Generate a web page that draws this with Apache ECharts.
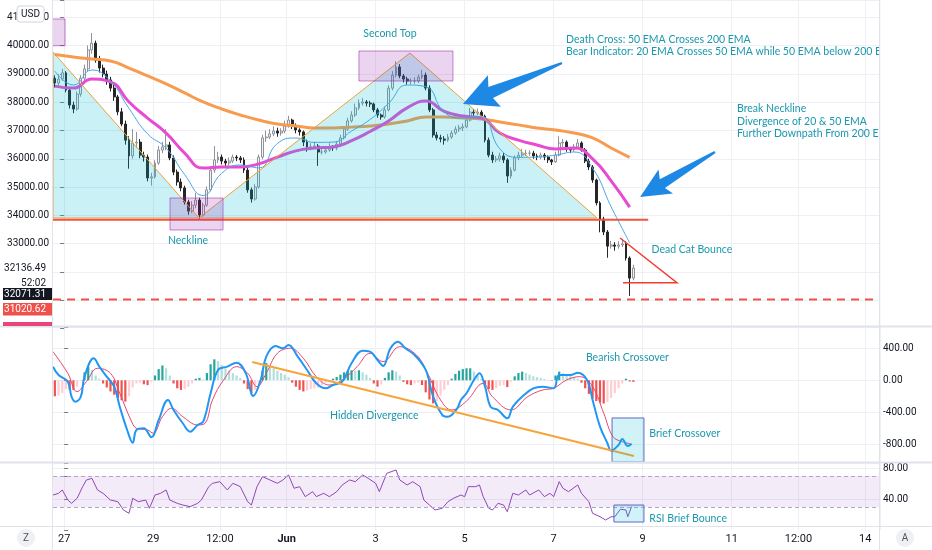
<!DOCTYPE html>
<html>
<head>
<meta charset="utf-8">
<script src="https://cdn.jsdelivr.net/npm/echarts@6/dist/echarts.min.js"></script>
<style>
  html, body { margin: 0; padding: 0; background: #fff; }
  #chart { width: 932px; height: 550px; }
</style>
</head>
<body>
<div id="chart"></div>
<script>
// hours are counted from 27 May 00:00, one candle = 2h, centred on odd hours
const tickHours = [0, 48, 84, 120, 168, 216, 264, 312, 360, 396, 432]
const tickLabels = ['27', '29', '12:00', 'Jun', '3', '5', '7', '9', '11', '12:00', '14']

// [open, close, low, high], first candle at hour -5
const candles = [
  [38850, 38680, 38520, 38950], [38680, 38820, 38600, 38990], [38820, 39040, 38760, 39180],
  [39040, 38430, 38350, 39100], [38430, 37900, 37780, 38520], [37900, 37760, 37610, 38020],
  [37760, 38290, 37700, 38380], [38290, 38850, 38200, 38960], [38850, 39180, 38760, 39330],
  [39180, 39850, 39100, 40010], [39850, 40090, 39720, 40450], [40090, 39490, 39400, 40180],
  [39490, 39210, 39050, 39640], [39210, 39000, 38880, 39330], [39000, 38790, 38620, 39120],
  [38790, 38500, 38380, 38900], [38500, 38190, 38050, 38620], [38190, 37660, 37540, 38260],
  [37660, 37230, 37150, 37800], [37230, 36660, 36500, 37350], [36660, 36100, 35650, 36800],
  [36100, 36560, 36000, 37050], [36560, 36590, 36380, 36950], [36590, 36130, 36020, 36700],
  [36130, 36060, 35900, 36250], [36060, 35320, 35200, 36150], [35320, 35360, 35050, 35500],
  [35360, 35850, 35300, 35950], [35850, 36310, 35780, 36450], [36310, 36420, 36200, 36600],
  [36420, 36490, 36300, 37050], [36490, 36030, 35950, 36600], [36030, 35530, 35420, 36120],
  [35530, 35180, 35050, 35620], [35180, 34970, 34850, 35300], [34970, 34470, 34380, 35050],
  [34470, 34150, 34020, 34550], [34150, 34360, 34080, 34500], [34360, 34540, 34250, 34800],
  [34540, 34010, 33850, 34620], [34010, 34360, 33950, 34450], [34360, 34900, 34300, 35020],
  [34900, 35600, 34850, 35700], [35600, 35960, 35500, 36450], [35960, 36060, 35850, 36250],
  [36060, 35920, 35800, 36150], [35920, 35850, 35700, 36000], [35850, 35920, 35760, 36050],
  [35920, 36060, 35850, 36150], [36060, 36030, 35920, 36130], [36030, 35960, 35850, 36100],
  [35960, 35600, 35500, 36050], [35600, 34900, 34800, 35680], [34900, 34580, 34450, 34980],
  [34580, 35000, 34520, 35100], [35000, 36060, 34950, 36150], [36060, 36740, 35980, 36850],
  [36740, 36770, 36600, 37000], [36770, 36880, 36700, 37050], [36880, 36980, 36800, 37150],
  [36980, 36910, 36780, 37100], [36910, 36980, 36820, 37080], [36980, 37160, 36900, 37350],
  [37160, 37370, 37100, 37520], [37370, 37160, 37050, 37420], [37160, 37020, 36900, 37250],
  [37020, 36950, 36820, 37080], [36950, 36590, 36450, 37000], [36590, 36420, 36250, 36680],
  [36420, 36420, 36300, 36550], [36420, 36450, 36350, 36600], [36450, 36240, 35750, 36520],
  [36240, 36240, 36150, 36350], [36240, 36310, 36180, 36400], [36310, 36420, 36250, 36550],
  [36420, 36380, 36280, 36480], [36380, 36520, 36300, 36620], [36520, 36740, 36450, 36850],
  [36740, 37050, 36680, 37150], [37050, 37340, 36980, 37450], [37340, 37550, 37280, 37680],
  [37550, 37800, 37480, 37950], [37800, 37970, 37720, 38100], [37970, 38010, 37880, 38150],
  [38010, 37970, 37850, 38080], [37970, 37940, 37830, 38050], [37940, 37730, 37650, 37990],
  [37730, 37550, 37450, 37800], [37550, 37480, 37380, 37600], [37480, 37730, 37420, 37850],
  [37730, 38500, 37680, 38600], [38500, 38960, 38420, 39100], [38960, 39250, 38880, 39450],
  [39250, 38930, 38850, 39350], [38930, 38820, 38700, 39000], [38820, 38750, 38620, 38900],
  [38750, 38750, 38640, 38850], [38750, 38750, 38650, 38880], [38750, 38890, 38680, 38980],
  [38890, 38960, 38820, 39150], [38960, 38500, 38420, 39050], [38500, 37730, 37650, 38600],
  [37730, 36840, 36750, 37800], [36840, 36740, 36650, 36950], [36740, 36700, 36580, 36850],
  [36700, 36660, 36500, 36800], [36660, 36770, 36600, 36880], [36770, 36910, 36700, 37000],
  [36910, 37050, 36850, 37150], [37050, 37090, 36950, 37200], [37090, 37130, 36980, 37250],
  [37130, 37370, 37080, 37450], [37370, 37650, 37320, 37800], [37650, 37620, 37520, 37750],
  [37620, 37650, 37540, 37780], [37650, 37510, 37420, 37720], [37510, 36660, 36580, 37560],
  [36660, 36130, 36050, 36750], [36130, 35960, 35850, 36250], [35960, 35990, 35880, 36100],
  [35990, 36100, 35900, 36220], [36100, 35960, 35850, 36200], [35960, 35390, 35150, 36020],
  [35390, 35600, 35300, 35700], [35600, 36030, 35550, 36120], [36030, 36130, 35950, 36250],
  [36130, 36170, 36050, 36350], [36170, 36200, 36100, 36320], [36200, 36200, 36100, 36300],
  [36200, 36100, 36000, 36280], [36100, 36060, 35950, 36180], [36060, 36130, 35980, 36220],
  [36130, 36060, 35950, 36200], [36060, 35960, 35850, 36120], [35960, 35890, 35780, 36000],
  [35890, 36130, 35850, 36250], [36130, 36560, 36080, 36800], [36560, 36590, 36420, 36700],
  [36590, 36350, 36250, 36650], [36350, 36310, 36200, 36420], [36310, 36420, 36250, 36520],
  [36420, 36560, 36380, 36700], [36560, 36310, 36250, 36620], [36310, 35920, 35850, 36380],
  [35920, 35710, 35600, 36000], [35710, 35250, 35150, 35780], [35250, 34440, 34350, 35300],
  [34440, 33870, 33400, 34500], [33870, 33410, 33300, 33950], [33410, 32910, 32500, 33480],
  [32910, 32950, 32820, 33100], [32950, 32910, 32750, 33050], [32910, 32950, 32820, 33080],
  [32950, 32990, 32880, 33150], [32990, 32490, 32400, 33080], [32490, 31780, 31150, 32550],
  [31780, 32136.49, 31700, 32250]
]

// moving averages, [hour, price]
const ema200 = [[-5, 39690], [5, 39600], [15, 39530], [25, 39460], [35, 39210], [45, 38930], [55, 38650],
  [65, 38330], [75, 38010], [85, 37760], [95, 37550], [105, 37370], [115, 37230], [125, 37160],
  [135, 37090], [145, 37090], [155, 37120], [165, 37160], [175, 37230], [185, 37340], [195, 37480],
  [205, 37480], [215, 37440], [225, 37410], [235, 37300], [245, 37200], [255, 37090], [265, 37020],
  [275, 36910], [285, 36740], [295, 36380], [305, 36050]]
const ema50 = [[-5, 38570], [5, 38500], [15, 38820], [25, 38720], [35, 38010], [45, 37440], [55, 36910],
  [65, 36200], [75, 35670], [85, 35710], [95, 35710], [105, 35820], [115, 36060], [125, 36280],
  [135, 36380], [145, 36420], [155, 36640], [165, 36965], [175, 37340], [185, 37800], [195, 38040],
  [205, 37680], [215, 37510], [225, 37440], [235, 36910], [245, 36660], [255, 36490], [265, 36350],
  [275, 36380], [285, 36000], [295, 35220], [305, 34290]]
const ema20 = [[-5, 39100], [5, 38610], [15, 39140], [25, 38750], [35, 37780], [45, 36880], [55, 36380],
  [65, 35440], [75, 34700], [85, 35490], [95, 35780], [105, 35680], [115, 36540], [125, 36735],
  [135, 36580], [145, 36590], [155, 36980], [165, 37390], [175, 37960], [185, 38610], [195, 38550],
  [205, 37650], [215, 37440], [225, 37500], [235, 36350], [245, 36050], [255, 36060], [265, 36130],
  [275, 36240], [285, 35670], [295, 34300], [300, 33660], [305, 33020]]

// MACD pane, [hour, value]
const macdLine = [[-6, 170], [-3, 66], [2, -17], [4, -205], [6, -267], [9, -205], [11, 45], [16, 275],
  [19, 170], [23, 45], [27, -80], [30, -330], [34, -621], [37, -780], [39, -621], [43, -600], [47, -712],
  [51, -496], [56, -246], [59, -371], [64, -537], [68, -642], [72, -558], [75, -517], [79, -163],
  [83, 129], [88, 170], [93, 220], [98, 87], [102, -196], [106, 4], [109, 295], [114, 429], [118, 400],
  [121, 441], [126, 295], [131, 129], [136, -38], [141, -100], [145, -59], [150, -17], [155, 212],
  [161, 370], [165, 358], [169, 254], [172, 179], [176, 400], [180, 483], [184, 400], [189, 316],
  [195, 129], [199, -205], [204, -434], [207, -455], [212, -350], [214, -246], [217, -163], [221, 4],
  [224, 87], [227, -80], [230, -330], [234, -371], [239, -475], [242, -330], [248, -184], [253, -100],
  [258, -80], [264, -100], [267, 66], [273, 66], [277, 95], [282, 4], [285, -246], [289, -580],
  [293, -787], [295, -880], [299, -809], [301, -734], [304, -821], [306, -796]]
const signalLine = [[-6, 358], [2, 87], [7, -142], [12, -17], [18, 150], [25, 87], [30, -163], [36, -496],
  [39, -600], [45, -621], [48, -662], [53, -455], [58, -350], [64, -455], [72, -558], [76, -537],
  [80, -246], [86, 4], [93, 170], [99, 87], [104, -80], [109, 87], [115, 337], [122, 400], [129, 275],
  [136, 45], [143, -59], [150, 4], [158, 170], [165, 337], [172, 233], [181, 420], [190, 316],
  [196, 87], [203, -246], [209, -371], [217, -260], [226, -38], [231, -205], [241, -371], [250, -205],
  [258, -121], [264, -100], [271, 4], [278, 45], [285, -80], [291, -412], [296, -705], [301, -767],
  [306, -796]]
// histogram, one value per candle
const macdHist = [
  -200, -190, -160, -110, -120, -120, -80, -10, 100, 170,
  130, 60, 20, -40, -90, -140, -180, -220, -250, -267,
  -200, -90, -40, -30, -50, -60, -20, 60, 140, 185,
  150, 60, -40, -100, -120, -110, -80, -40, 20, 30,
  10, 90, 200, 262, 240, 190, 150, 120, 90, 60,
  30, -40, -110, -160, -120, -40, 120, 215, 180, 150,
  120, 90, 70, 40, -30, -80, -120, -140, -130, -110,
  -100, -95, -60, -30, -10, 20, 40, 70, 100, 115,
  125, 120, 125, 100, 70, 30, -40, -80, -50, 30,
  100, 125, 110, 60, -20, -50, -60, -40, -30, -60,
  -150, -240, -288, -260, -190, -120, -60, 20, 80, 120,
  140, 150, 150, 110, 60, 20, -60, -110, -120, -100,
  -70, -60, -85, -20, 50, 90, 108, 90, 70, 50,
  40, 30, 15, 5, -5, 60, 108, 90, 70, 60,
  40, 20, -30, -100, -170, -230, -260, -280, -290, -270,
  -220, -160, -100, -40, 20, -15, -20
]

// RSI pane, [hour, value]
const rsiLine = [[-6, 45.5], [-3, 47.7], [-1, 52], [2, 39], [4, 34.8], [7, 41.3], [10, 56.3], [12, 64.9],
  [15, 67], [18, 52], [21, 47.7], [25, 39], [29, 36.9], [32, 26.2], [35, 21.9], [37, 41.3], [40, 36.9],
  [44, 39], [46, 28.4], [49, 45.5], [52, 47.7], [55, 52], [57, 39], [61, 34.8], [64, 32.6], [68, 30.5],
  [72, 34.8], [74, 39], [78, 56.3], [80, 60.6], [84, 62.7], [88, 52], [91, 60.6], [95, 56.3], [99, 36.9],
  [101, 32.6], [104, 56.3], [107, 69.2], [111, 64.9], [115, 60.6], [118, 64.9], [121, 71.4], [124, 54.2],
  [127, 56.3], [130, 43.4], [134, 49.8], [136, 43.4], [140, 47.7], [143, 43.4], [147, 49.8], [150, 58.5],
  [154, 64.9], [157, 62.7], [161, 71.4], [164, 67], [168, 60.6], [170, 49.8], [174, 73.5], [179, 77.8],
  [181, 64.9], [185, 58.5], [188, 62.7], [192, 56.3], [194, 39], [197, 32.6], [200, 26.2], [204, 28.4],
  [207, 36.9], [210, 41.3], [214, 45.5], [216, 43.4], [218, 56.3], [222, 56.3], [224, 58.5], [226, 43.4],
  [229, 28.4], [231, 26.2], [234, 34.8], [237, 32.6], [239, 24], [242, 47.7], [245, 45.5], [249, 52],
  [251, 45.5], [256, 52], [259, 43.4], [262, 47.7], [264, 43.4], [267, 62.7], [269, 54.2], [272, 49.8],
  [277, 58.5], [279, 47.7], [283, 36.9], [285, 21.9], [289, 17.5], [292, 13.3], [295, 17.5], [297, 17.5],
  [300, 27.1], [303, 26.2], [304, 17.5], [306, 30.5]]

const lastPrice = 32136.49
const closeLabel = '32071.31'
const alertPrice = 31020.62
const countdown = '52:02'

const TEAL = '#1b98ad'
const AXIS_FONT = 'Roboto, "Noto Sans", sans-serif'
const NOTE_FONT = 'Lato, "Noto Sans", sans-serif'
const GRID_LINE = '#eef0f5'
const TEXT = '#131722'

const hours = []
for (let h = -5; h <= 439; h += 2) hours.push(String(h))
const isTick = (i, v) => tickHours.indexOf(Number(v) - 1) >= 0
const gridColors = ['rgba(0,0,0,0)'].concat(new Array(20).fill(GRID_LINE))

const histData = macdHist.map((v, i) => {
  const prev = i > 0 ? macdHist[i - 1] : v
  let color
  if (v >= 0) color = v >= prev ? '#26a69a' : '#b2dfdb'
  else color = v <= prev ? '#ef5350' : '#ffcdd2'
  return { value: v, itemStyle: { color } }
})

// drawings on the panes, in [hour, value]
const PURPLE_FILL = 'rgba(156,39,176,0.2)'
const PURPLE_LINE = 'rgba(156,39,176,0.55)'
const BOX_FILL = 'rgba(0,188,212,0.18)'
const BOX_LINE = '#5d6bc4'

const mainNotes = [
  { kind: 'poly', pts: [[-6, 39777], [72.7, 33906], [186.5, 39742], [287.4, 33906], [-6, 33906]], fill: 'rgba(0,188,212,0.21)', stroke: '#f0a035', width: 1 },
  { kind: 'line', pts: [[-6, 33845], [315, 33845]], stroke: '#f2543d', width: 2 },
  { kind: 'rect', a: [-7, 40945], b: [0.5, 40000], fill: PURPLE_FILL, stroke: PURPLE_LINE },
  { kind: 'rect', a: [159, 39813], b: [209.7, 38752], fill: PURPLE_FILL, stroke: PURPLE_LINE },
  { kind: 'rect', a: [57.1, 34613], b: [85.7, 33481], fill: PURPLE_FILL, stroke: PURPLE_LINE },
  { kind: 'line', pts: [[299.8, 33198], [330.5, 31615], [301.4, 31615]], stroke: '#f23c2f', width: 1.5 },
  { kind: 'line', pts: [[-6, alertPrice], [440, alertPrice]], stroke: '#f0504a', width: 2, dash: [8, 6] },
  { kind: 'arrow', from: [268.5, 39388], to: [215.1, 37938], head: 30, wing: 17, shaft: 6, tail: 1.2 },
  { kind: 'arrow', from: [351, 36240], to: [310.6, 34648], head: 26, wing: 14, shaft: 5, tail: 1.2 },
  { kind: 'text', at: [175.7, 40414], text: 'Second Top', align: 'center' },
  { kind: 'text', at: [66.8, 33092], text: 'Neckline', align: 'center' },
  { kind: 'text', at: [270.7, 40007], text: 'Death Cross: 50 EMA Crosses 200 EMA\nBear Indicator: 20 EMA Crosses 50 EMA while 50 EMA below 200 EMA' },
  { kind: 'text', at: [362.9, 37330], text: 'Break Neckline\nDivergence of 20 & 50 EMA\nFurther Downpath From 200 EMA' },
  { kind: 'text', at: [316.8, 32772], text: 'Dead Cat Bounce' }
]
const macdNotes = [
  { kind: 'line', pts: [[101.4, 229], [307.3, -946]], stroke: '#f7a53a', width: 2 },
  { kind: 'rect', a: [295.5, -471], b: [312.7, -1021], fill: BOX_FILL, stroke: BOX_LINE },
  { kind: 'text', at: [281.4, 283], text: 'Bearish Crossover' },
  { kind: 'text', at: [143.4, -442], text: 'Hidden Divergence' },
  { kind: 'text', at: [315.6, -671], text: 'Brief Crossover' }
]
const rsiNotes = [
  { kind: 'rect', a: [296.5, 32.6], b: [312.7, 10.7], fill: BOX_FILL, stroke: BOX_LINE },
  { kind: 'text', at: [315.6, 14.6], text: 'RSI Brief Bounce' }
]

function buildShape(s, api) {
  const p = (pt) => api.coord(pt)
  if (s.kind === 'poly') {
    return { type: 'polygon', shape: { points: s.pts.map(p) }, style: { fill: s.fill, stroke: s.stroke, lineWidth: s.width } }
  }
  if (s.kind === 'line') {
    return { type: 'polyline', shape: { points: s.pts.map(p) }, style: { fill: 'none', stroke: s.stroke, lineWidth: s.width, lineDash: s.dash || null } }
  }
  if (s.kind === 'rect') {
    const a = p(s.a), b = p(s.b)
    return {
      type: 'rect',
      shape: { x: Math.min(a[0], b[0]), y: Math.min(a[1], b[1]), width: Math.abs(b[0] - a[0]), height: Math.abs(b[1] - a[1]) },
      style: { fill: s.fill, stroke: s.stroke, lineWidth: 1 }
    }
  }
  if (s.kind === 'arrow') {
    const a = p(s.from), b = p(s.to)
    const dx = b[0] - a[0], dy = b[1] - a[1], len = Math.hypot(dx, dy)
    const ux = dx / len, uy = dy / len, nx = -uy, ny = ux
    const bx = b[0] - ux * s.head, by = b[1] - uy * s.head
    const pts = [
      [a[0] + nx * s.tail, a[1] + ny * s.tail],
      [bx + nx * s.shaft, by + ny * s.shaft],
      [bx + nx * s.wing - ux * 4, by + ny * s.wing - uy * 4],
      b,
      [bx - nx * s.wing - ux * 4, by - ny * s.wing - uy * 4],
      [bx - nx * s.shaft, by - ny * s.shaft],
      [a[0] - nx * s.tail, a[1] - ny * s.tail]
    ]
    return { type: 'polygon', shape: { points: pts }, style: { fill: '#1e88e5' } }
  }
  const at = p(s.at)
  return {
    type: 'text', x: at[0], y: at[1],
    style: {
      text: s.text, fill: TEAL, fontSize: 10.5, fontFamily: NOTE_FONT, lineHeight: 12.4,
      align: s.align || 'left', textAlign: s.align || 'left', verticalAlign: 'middle', textVerticalAlign: 'middle'
    }
  }
}
const notesRenderer = (shapes) => (params, api) => ({ type: 'group', children: shapes.map(s => buildShape(s, api)) })

const catAxis = (gridIndex, withLabels) => ({
  type: 'category', gridIndex, data: hours, boundaryGap: true,
  axisLine: { show: false }, axisTick: { show: false },
  axisLabel: {
    show: withLabels, interval: isTick, color: TEXT, fontSize: 11, fontFamily: AXIS_FONT, margin: 3,
    padding: [0, 3.7, 0, 0],
    formatter: (v) => {
      const t = tickLabels[tickHours.indexOf(Number(v) - 1)] || ''
      return t === 'Jun' ? '{b|Jun}' : t
    },
    rich: { b: { fontWeight: 'bold', fontSize: 11, fontFamily: AXIS_FONT, color: TEXT } }
  },
  splitLine: { show: true, interval: isTick, lineStyle: { color: GRID_LINE, width: 1 } }
})
const hourAxis = (gridIndex) => ({ type: 'value', gridIndex, min: -6, max: 440, show: false })

const chart = echarts.init(document.getElementById('chart'))
const option = {
  animation: false,
  backgroundColor: '#ffffff',
  grid: [
    { left: 53, right: 52, top: 0, height: 328.4, containLabel: false, outerBoundsMode: 'none' },
    { left: 53, right: 52, top: 327, height: 149.3, containLabel: false, outerBoundsMode: 'none' },
    { left: 53, right: 52, top: 463, height: 67.3, containLabel: false, outerBoundsMode: 'none' }
  ],
  xAxis: [catAxis(0, false), catAxis(1, false), catAxis(2, true), hourAxis(0), hourAxis(1), hourAxis(2)],
  yAxis: [
    {
      type: 'value', gridIndex: 0, position: 'left', min: 30000, max: 41617, interval: 1000,
      axisLine: { show: false },
      axisTick: { show: true, length: 4, lineStyle: { color: '#787b86' } },
      axisLabel: {
        color: TEXT, fontSize: 10, fontFamily: AXIS_FONT, margin: 4,
        formatter: (v) => (v >= 33000 && v % 1000 === 0) ? v.toFixed(2) : ''
      },
      splitLine: { lineStyle: { color: gridColors } }
    },
    {
      type: 'value', gridIndex: 1, position: 'right', min: -1200, max: 666, interval: 400,
      axisLine: { show: false },
      axisTick: { show: true, length: 4, lineStyle: { color: '#787b86' } },
      axisLabel: {
        color: TEXT, fontSize: 10, fontFamily: AXIS_FONT, margin: 3,
        formatter: (v) => (v >= -800 && v <= 400 && v % 400 === 0) ? v.toFixed(2) : ''
      },
      splitLine: { lineStyle: { color: gridColors } }
    },
    {
      type: 'value', gridIndex: 2, position: 'right', min: 0, max: 86.8, interval: 40,
      axisLine: { show: false },
      axisTick: { show: true, length: 4, lineStyle: { color: '#787b86' } },
      axisLabel: {
        color: TEXT, fontSize: 10, fontFamily: AXIS_FONT, margin: 3,
        formatter: (v) => (v === 40 || v === 80) ? v.toFixed(2) : ''
      },
      splitLine: { lineStyle: { color: gridColors } }
    }
  ],
  series: [
    {
      type: 'candlestick', xAxisIndex: 0, yAxisIndex: 0, data: candles, barWidth: 2.4, z: 2,
      itemStyle: { color: '#f4f4f4', color0: '#262626', borderColor: '#8f929b', borderColor0: '#262626', borderWidth: 1 }
    },
    { type: 'line', xAxisIndex: 3, yAxisIndex: 0, data: ema200, smooth: true, symbol: 'none', z: 3, lineStyle: { color: '#f79b4f', width: 3 } },
    { type: 'line', xAxisIndex: 3, yAxisIndex: 0, data: ema50, smooth: true, symbol: 'none', z: 3, lineStyle: { color: '#e64bd2', width: 3 } },
    { type: 'line', xAxisIndex: 3, yAxisIndex: 0, data: ema20, smooth: true, symbol: 'none', z: 3, lineStyle: { color: '#4ea6e8', width: 1 } },
    { type: 'custom', xAxisIndex: 3, yAxisIndex: 0, data: [[100, 35000]], renderItem: notesRenderer(mainNotes), clip: true, z: 5, silent: true },

    { type: 'bar', xAxisIndex: 1, yAxisIndex: 1, data: histData, barWidth: 2.2, z: 2 },
    { type: 'line', xAxisIndex: 4, yAxisIndex: 1, data: signalLine, smooth: 0.4, symbol: 'none', z: 3, lineStyle: { color: '#e8456f', width: 1 } },
    { type: 'line', xAxisIndex: 4, yAxisIndex: 1, data: macdLine, smooth: 0.4, symbol: 'none', z: 4, lineStyle: { color: '#2196f3', width: 2 } },
    { type: 'custom', xAxisIndex: 4, yAxisIndex: 1, data: [[100, 0]], renderItem: notesRenderer(macdNotes), clip: true, z: 5, silent: true },

    {
      type: 'line', xAxisIndex: 5, yAxisIndex: 2, data: rsiLine, symbol: 'none', z: 3,
      lineStyle: { color: '#9147b5', width: 1 },
      markArea: { silent: true, itemStyle: { color: 'rgba(149,60,200,0.1)' }, data: [[{ yAxis: 30 }, { yAxis: 70 }]] },
      markLine: {
        silent: true, symbol: 'none', label: { show: false },
        lineStyle: { color: '#b3a6cc', type: [4, 3], width: 1 },
        data: [{ yAxis: 70 }, { yAxis: 30 }]
      }
    },
    { type: 'custom', xAxisIndex: 5, yAxisIndex: 2, data: [[100, 50]], renderItem: notesRenderer(rsiNotes), clip: true, z: 5, silent: true }
  ]
}
chart.setOption(option)

// price scale labels on the left, placed from the price axis
const yLast = chart.convertToPixel({ yAxisIndex: 0 }, lastPrice)
const yAlert = chart.convertToPixel({ yAxisIndex: 0 }, alertPrice)
const SEP = '#e0e3eb'
const label = (x, y, text, fill, align, size) => ({
  type: 'text', x, y, z: 110,
  style: { text, fill, fontSize: size || 10, fontFamily: AXIS_FONT, align, textAlign: align, verticalAlign: 'middle', textVerticalAlign: 'middle' }
})
chart.setOption({
  graphic: [
    { type: 'rect', z: 100, shape: { x: 880.5, y: 0, width: 52, height: 326 }, style: { fill: '#ffffff' } },
    { type: 'line', z: 105, shape: { x1: 0, y1: 326.5, x2: 932, y2: 326.5 }, style: { stroke: SEP, lineWidth: 2 } },
    { type: 'line', z: 105, shape: { x1: 0, y1: 462.5, x2: 932, y2: 462.5 }, style: { stroke: SEP, lineWidth: 2 } },
    { type: 'line', z: 105, shape: { x1: 0, y1: 526.5, x2: 932, y2: 526.5 }, style: { stroke: SEP, lineWidth: 1 } },
    { type: 'line', z: 105, shape: { x1: 52.5, y1: 0, x2: 52.5, y2: 550 }, style: { stroke: SEP, lineWidth: 1 } },
    { type: 'line', z: 105, shape: { x1: 879.5, y1: 0, x2: 879.5, y2: 550 }, style: { stroke: SEP, lineWidth: 1 } },

    { type: 'rect', z: 110, shape: { x: 17, y: 6, width: 27, height: 16, r: 3 }, style: { fill: '#ffffff', stroke: '#d1d4dc', lineWidth: 1 } },
    label(30.5, 14, 'USD', TEXT, 'center', 10),

    label(46, yLast, lastPrice.toFixed(2), TEXT, 'right'),
    label(46, yLast + 15, countdown, TEXT, 'right'),
    { type: 'rect', z: 108, shape: { x: 3, y: yAlert - 11.5, width: 49, height: 12 }, style: { fill: '#131722' } },
    label(46, yAlert - 5.5, closeLabel, '#ffffff', 'right'),
    { type: 'rect', z: 108, shape: { x: 3, y: yAlert + 3.5, width: 49, height: 12.5 }, style: { fill: '#f0504a' } },
    label(46, yAlert + 9.7, alertPrice.toFixed(2), '#ffffff', 'right'),
    { type: 'rect', z: 108, shape: { x: 3, y: yAlert + 22.5, width: 49, height: 4 }, style: { fill: '#e8457a' } },

    { type: 'circle', z: 110, shape: { cx: 26, cy: 538, r: 9 }, style: { fill: '#eef0f4' } },
    label(26, 538.5, 'Z', '#50535e', 'center', 10),
    { type: 'circle', z: 110, shape: { cx: 905, cy: 538, r: 9 }, style: { fill: '#eef0f4' } },
    label(905, 538.5, 'A', '#50535e', 'center', 10)
  ]
})
</script>
</body>
</html>
